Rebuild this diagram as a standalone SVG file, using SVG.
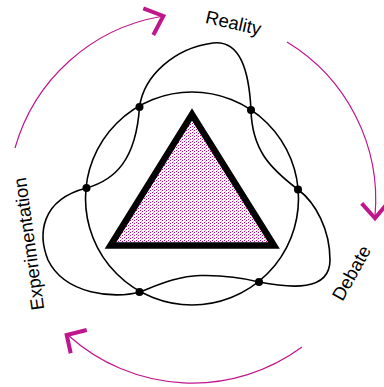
<svg xmlns="http://www.w3.org/2000/svg" width="384" height="387" viewBox="0 0 384 387">
<style>
.arc{fill:none;stroke:#c0168c;stroke-width:1.2}
.head{fill:none;stroke:#c0168c;stroke-width:4;stroke-linejoin:miter;stroke-linecap:butt}
.line{fill:none;stroke:#000;stroke-width:1.6}
.dot{fill:#000}
.lbl{font-family:"Liberation Sans",Arial,sans-serif;font-size:18.5px;fill:#000}
</style>
<defs>
<pattern id="dots" width="4" height="3" patternUnits="userSpaceOnUse">
<rect width="4" height="3" fill="#fff"/>
<rect x="0" y="0" width="1" height="1" fill="#c0008f"/>
<rect x="2" y="1" width="1" height="1" fill="#c0008f"/>
<rect x="1" y="2" width="1" height="1" fill="#f0b0e0"/>
</pattern>
</defs>
<rect width="384" height="387" fill="#fff"/>
<g id="cycle-arrows">
<path class="arc" d="M15,148 A184.5,184.5 0 0 1 161,16.5"/>
<polyline class="head" points="143.3,8.3 163.3,16 153.3,35"/>
<path class="arc" d="M287,42 A184.5,184.5 0 0 1 375,216"/>
<polyline class="head" points="361.7,203.3 375,218.3 386,205"/>
<path class="arc" d="M302,347 A185,185 0 0 1 69,336"/>
<polyline class="head" points="86.7,330 66.7,335 70.7,353.3"/>
</g>
<g id="connectors">
<circle class="line" cx="192" cy="198.5" r="106.5"/>
<path class="line" d="M139.5,107 C144,75 175,48 213,43 C240,40 249,70 251,110 C252,150 270,168 298,189.5 C316,203 330,230 330,260 C330,292 290,288 259,282 C240,277 222,275 200,275.5 C178,276 158,285 139.5,292 C115,299 65,295 48,260 C38,235 40,200 86.5,188 C115,180 136,160 139.5,107 Z"/>
</g>
<g id="triangle">
<polygon points="192,114.5 110.5,245.5 274,245.5" fill="url(#dots)" stroke="#000" stroke-width="6.5" stroke-linejoin="miter"/>
</g>
<g id="points">
<circle class="dot" cx="139.5" cy="107" r="4"/>
<circle class="dot" cx="251" cy="110" r="4"/>
<circle class="dot" cx="298" cy="189.5" r="4"/>
<circle class="dot" cx="259" cy="282" r="4"/>
<circle class="dot" cx="139.5" cy="292" r="4"/>
<circle class="dot" cx="86.5" cy="188" r="4"/>
</g>
<g id="label-reality"><text class="lbl" text-anchor="middle" transform="translate(232,29) rotate(13)">Reality</text></g>
<g id="label-debate"><text class="lbl" text-anchor="middle" transform="translate(357,276) rotate(-61)">Debate</text></g>
<g id="label-experimentation"><text class="lbl" text-anchor="middle" transform="translate(35,243) rotate(-98)">Experimentation</text></g>
</svg>
